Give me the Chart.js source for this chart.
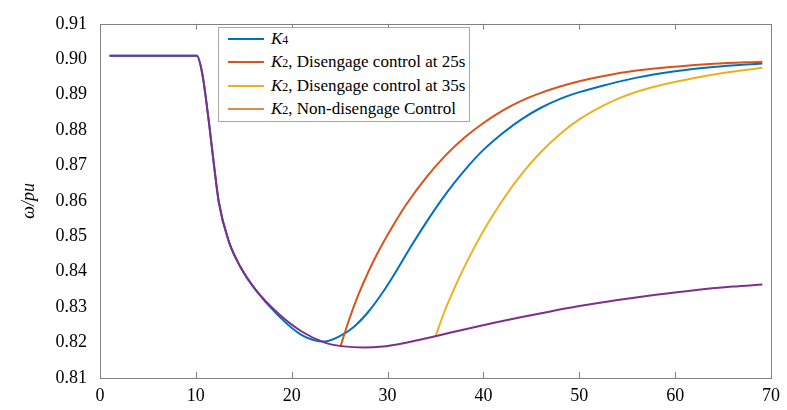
<!DOCTYPE html>
<html lang="en">
<head>
    <meta charset="UTF-8">
    <title>Rotor speed response</title>
    <script src="https://cdn.jsdelivr.net/npm/chart.js"></script>
    <style>
        html, body { margin: 0; padding: 0; background: #fff; }
        #wrap { position: relative; width: 787px; height: 410px; }
        #legend {
            position: absolute; left: 218px; top: 27px; width: 252px; height: 95px;
            box-sizing: border-box; border: 1px solid #a8a8a8; background: #fff;
            font-family: "Liberation Serif", "Times New Roman", serif; font-size: 17px; color: #000;
        }
        .row { position: absolute; left: 0; height: 22px; line-height: 22px; white-space: nowrap; }
        .row .sw { position: absolute; left: 9px; top: 10px; width: 36px; height: 2px; }
        .row .tx { position: absolute; left: 52px; top: 0; }
        .row i { font-style: italic; }
        .row small { font-size: 12px; }
    </style>
</head>
<body>
<div id="wrap">
    <canvas id="speedChart" width="787" height="410"></canvas>
    <div id="legend"></div>
</div>
<script>
    // shared drop after the fault (all cases identical up to ~16 s)
    const baseT = [1, 10.1, 10.65, 11.35, 11.87, 12.39, 13.42, 14.64, 16.2];
    const baseW = [0.901, 0.901, 0.8962, 0.8825, 0.8706, 0.8597, 0.8487, 0.8414, 0.835];

    // K2, non-disengage control (tail)
    const nonT = [18.6, 21.0, 23.45, 25.2, 27.6, 29.5, 31.4, 33.0, 35.0, 38.0, 41.0, 44.0, 47.0, 50.0, 54.0, 58.0, 62.0, 66.0, 69.1];
    const nonW = [0.8282, 0.8232, 0.8200, 0.8190, 0.8186, 0.8189, 0.8197, 0.8206, 0.8218, 0.8237, 0.8255, 0.8272, 0.8288, 0.8303, 0.8320, 0.8335, 0.8348, 0.8358, 0.8364];

    // K4 (tail)
    const k4T = [18.6, 21.0, 23.4, 25.0, 26.5, 28.0, 29.5, 31.0, 32.5, 34.0, 35.5, 37.0, 38.5, 40.0, 42.0, 44.0, 46.0, 48.0, 50.0, 53.0, 56.0, 60.0, 64.0, 69.1];
    const k4W = [0.8276, 0.8222, 0.8203, 0.8218, 0.8245, 0.8287, 0.8342, 0.8406, 0.8474, 0.8538, 0.8598, 0.8652, 0.8701, 0.8744, 0.8791, 0.8831, 0.8863, 0.8888, 0.8907, 0.8929, 0.8948, 0.8966, 0.8978, 0.8988];

    // K2, disengage control at 25 s
    const dis25T = [25.1, 26.0, 27.0, 28.0, 29.0, 30.5, 32.0, 34.0, 36.0, 38.0, 40.0, 42.0, 44.0, 46.0, 48.0, 50.0, 53.0, 56.0, 60.0, 64.0, 69.1];
    const dis25W = [0.8190, 0.8266, 0.8338, 0.8400, 0.8455, 0.8527, 0.8592, 0.8665, 0.8727, 0.8778, 0.8820, 0.8855, 0.8883, 0.8905, 0.8923, 0.8938, 0.8955, 0.8968, 0.8979, 0.8987, 0.8993];

    // K2, disengage control at 35 s
    const dis35T = [35.0, 36.0, 37.0, 38.0, 39.0, 40.5, 42.0, 44.0, 46.0, 48.0, 50.0, 52.0, 54.0, 56.0, 59.0, 62.0, 65.0, 69.1];
    const dis35W = [0.8218, 0.8292, 0.8355, 0.8413, 0.8466, 0.8538, 0.8602, 0.8676, 0.8738, 0.8789, 0.8830, 0.8862, 0.8888, 0.8908, 0.8930, 0.8947, 0.8961, 0.8976];

    const xTicks = [0, 10, 20, 30, 40, 50, 60, 70];
    const yTicks = [0.81, 0.82, 0.83, 0.84, 0.85, 0.86, 0.87, 0.88, 0.89, 0.90, 0.91];

    const legendItems = [
        { k: '4', text: '', color: '#0072BD' },
        { k: '2', text: ', Disengage control at 25s', color: '#D95319' },
        { k: '2', text: ', Disengage control at 35s', color: '#EDB120' },
        { k: '2', text: ', Non-disengage Control', color: '#E38B45' }
    ];

    const serif = '"Liberation Serif", "Times New Roman", serif';
    const pts = (ts, ws) => ts.map((t, i) => ({ x: t, y: ws[i] }));

    document.getElementById('legend').innerHTML = legendItems.map((it, i) => `
        <div class="row" style="top:${i * 23.4}px">
            <div class="sw" style="background:${it.color}"></div>
            <div class="tx"><i>K</i><small>${it.k}</small>${it.text}</div>
        </div>`).join('');

    const line = (data, color, order) => ({
        data, borderColor: color, borderWidth: 2, pointRadius: 0,
        cubicInterpolationMode: 'monotone', fill: false, order
    });

    // plot box with inward x ticks on top and bottom
    const boxPlugin = {
        id: 'box',
        beforeDatasetsDraw(chart) {
            const { ctx, chartArea: a, scales } = chart;
            ctx.save();
            ctx.strokeStyle = '#808080';
            ctx.lineWidth = 1;
            ctx.strokeRect(Math.round(a.left) + 0.5, Math.round(a.top) + 0.5,
                Math.round(a.right - a.left), Math.round(a.bottom - a.top));
            ctx.beginPath();
            xTicks.slice(1, -1).forEach(v => {
                const x = Math.round(scales.x.getPixelForValue(v)) + 0.5;
                ctx.moveTo(x, a.bottom); ctx.lineTo(x, a.bottom - 6);
                ctx.moveTo(x, a.top); ctx.lineTo(x, a.top + 6);
            });
            ctx.stroke();
            ctx.restore();
        }
    };

    function drawChart() {
        new Chart(document.getElementById('speedChart'), {
            type: 'line',
            data: {
                datasets: [
                    line(pts(baseT.concat(nonT), baseW.concat(nonW)), '#7E2F8E', 0),
                    line(pts(baseT.concat(k4T), baseW.concat(k4W)), '#0072BD', 3),
                    line(pts(dis25T, dis25W), '#D95319', 2),
                    line(pts(dis35T, dis35W), '#EDB120', 1)
                ]
            },
            options: {
                responsive: false,
                animation: false,
                layout: { padding: { top: 13, right: 12, left: 0, bottom: 0 } },
                plugins: { legend: { display: false }, tooltip: { enabled: false } },
                scales: {
                    x: {
                        type: 'linear', min: 0, max: 70,
                        afterBuildTicks: s => { s.ticks = xTicks.map(v => ({ value: v })); },
                        afterFit: s => { s.height = 32; },
                        grid: { display: false, drawTicks: false },
                        border: { display: false },
                        ticks: { padding: 7, color: '#000', maxRotation: 0, font: { family: serif, size: 18 } }
                    },
                    y: {
                        min: 0.81, max: 0.91,
                        afterBuildTicks: s => { s.ticks = yTicks.map(v => ({ value: v })); },
                        afterFit: s => { s.width = 100; },
                        grid: { display: false, drawTicks: false },
                        border: { display: false },
                        ticks: { padding: 13, color: '#000', font: { family: serif, size: 18 },
                            callback: v => Number(v).toFixed(2) },
                        title: { display: true, text: 'ω/pu', color: '#000', padding: { top: 18, bottom: 0 },
                            font: { family: serif, size: 18, style: 'italic' } }
                    }
                }
            },
            plugins: [boxPlugin]
        });
    }

    Promise.all([
        document.fonts.load('18px "Liberation Serif"'),
        document.fonts.load('italic 18px "Liberation Serif"')
    ]).then(drawChart, drawChart);
</script>
</body>
</html>
